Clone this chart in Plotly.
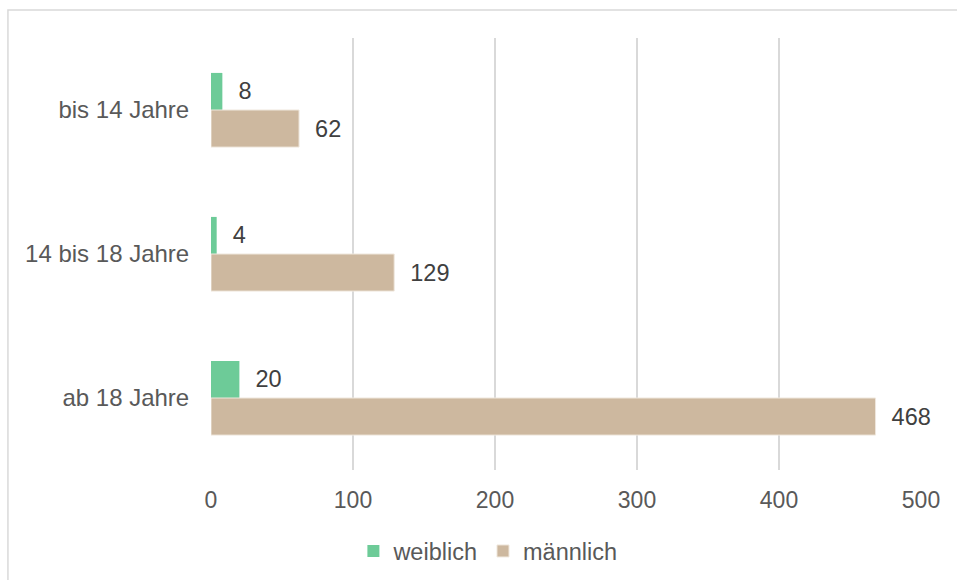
import plotly.graph_objects as go

categories = ["bis 14 Jahre", "14 bis 18 Jahre", "ab 18 Jahre"]
weiblich = [8, 4, 20]
maennlich = [62, 129, 468]
tick_vals = [0, 100, 200, 300, 400, 500]

FONT = "Liberation Sans, Arial, sans-serif"

fig = go.Figure()
fig.add_trace(go.Bar(
    y=categories, x=weiblich, orientation="h", name="weiblich",
    marker=dict(color="#6DCB98", line=dict(width=0)),
    text=weiblich, texttemplate="\u00a0\u00a0%{x}", textposition="outside",
    textfont=dict(size=23.5, color="#404040", family=FONT),
    cliponaxis=False,
))
fig.add_trace(go.Bar(
    y=categories, x=maennlich, orientation="h", name="männlich",
    marker=dict(color="#CDB89F", line=dict(width=1, color="#EFE7DD")),
    text=maennlich, texttemplate="\u00a0\u00a0%{x}", textposition="outside",
    textfont=dict(size=23.5, color="#404040", family=FONT),
    cliponaxis=False,
))

fig.update_layout(
    width=957, height=580,
    margin=dict(l=211, r=36, t=38, b=110, autoexpand=False),
    paper_bgcolor="white", plot_bgcolor="white",
    barmode="group", bargap=0.485, bargroupgap=0,
    font=dict(family=FONT, size=23.5, color="#595959"),
    showlegend=True,
    legend=dict(orientation="h", x=0.39, xanchor="center", y=-0.137, yanchor="top",
                font=dict(size=23.5, color="#595959"), itemwidth=30, traceorder="normal"),
    xaxis=dict(range=[0, 500], tickvals=tick_vals, showgrid=True, gridcolor="#D9D9D9",
               gridwidth=2, zeroline=False, showline=False, ticks="outside", ticklen=9,
               tickcolor="rgba(0,0,0,0)",
               tickfont=dict(size=23, color="#595959")),
    yaxis=dict(autorange="reversed", showgrid=False, zeroline=False, showline=False,
               ticks="outside", ticklen=16, tickcolor="rgba(0,0,0,0)",
               tickfont=dict(size=24, color="#595959")),
    shapes=[dict(type="rect", xref="paper", yref="paper",
                 x0=-0.286, x1=2, y0=-1, y1=1.0648,
                 line=dict(color="#D9D9D9", width=1.5), fillcolor="rgba(0,0,0,0)", layer="below")],
)

fig.write_html("out.html", config={"displayModeBar": False},
               post_script="document.body.style.margin='0';document.body.style.overflow='hidden';")
